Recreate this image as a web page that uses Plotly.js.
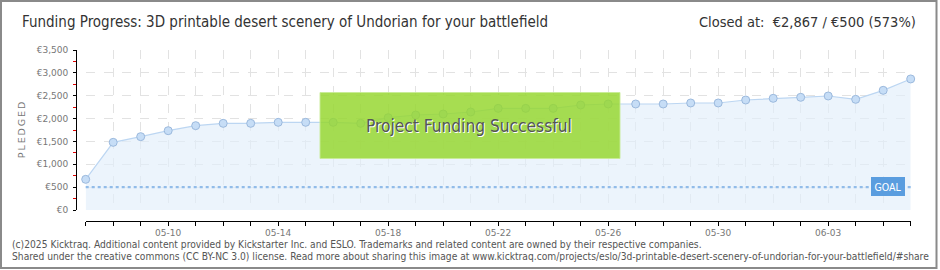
<!DOCTYPE html>
<html>
<head>
<meta charset="utf-8">
<script src="https://cdn.plot.ly/plotly-3.0.1.min.js"></script>
<style>
html,body{margin:0;padding:0;background:#fff;}
#chart{width:940px;height:270px;}
</style>
</head>
<body>
<div id="chart"></div>
<script>
// ---- data ----
const days = ['05-07','05-08','05-09','05-10','05-11','05-12','05-13','05-14','05-15','05-16',
  '05-17','05-18','05-19','05-20','05-21','05-22','05-23','05-24','05-25','05-26',
  '05-27','05-28','05-29','05-30','05-31','06-01','06-02','06-03','06-04','06-05','06-06'];
const pledged = [671,1480,1604,1735,1845,1896,1896,1918,1918,1918,
  1896,2020,2078,2100,2144,2224,2224,2224,2297,2319,
  2319,2319,2341,2341,2406,2443,2465,2494,2421,2618,2867];
const goal = 500;
const tickLabels = ['','','','05-10','','','','05-14','','','','05-18','','','','05-22','','','','05-26',
  '','','','05-30','','','','06-03','','',''];
const titleText = 'Funding Progress: 3D printable desert scenery of Undorian for your battlefield';
const statusText = 'Closed at:  €2,867 / €500 (573%)';
const bannerText = 'Project Funding Successful';
const yTitle = 'P\u2009L\u2009E\u2009D\u2009G\u2009E\u2009D';
const footer1 = '(c)2025 Kicktraq. Additional content provided by Kickstarter Inc. and ESLO. Trademarks and related content are owned by their respective companies.';
const footer2 = 'Shared under the creative commons (CC BY-NC 3.0) license. Read more about sharing this image at www.kicktraq.com/projects/eslo/3d-printable-desert-scenery-of-undorian-for-your-battlefield/#share';

// ---- geometry helpers (pixels -> paper) ----
const W = 940, H = 270;
const px = x => x / W;
const py = y => 1 - y / H;
const FONT = 'DejaVu Sans Condensed, DejaVu Sans, sans-serif';
const FONT_W = 'DejaVu Sans, sans-serif';

const traces = [
  {
    x: days, y: pledged, type: 'scatter', mode: 'lines+markers',
    fill: 'tozeroy', fillcolor: 'rgba(226,238,251,0.65)',
    line: {color: '#bcd6f2', width: 1.2},
    marker: {size: 8, color: '#c6ddf6', line: {color: '#9bb9dd', width: 1}},
    hoverinfo: 'skip', xaxis: 'x', yaxis: 'y', cliponaxis: false
  },
  {
    x: days, y: pledged, type: 'scatter', mode: 'markers',
    marker: {opacity: 0}, hoverinfo: 'skip', xaxis: 'x2', yaxis: 'y2', showlegend: false
  }
];

const layout = {
  width: W, height: H,
  margin: {l: 0, r: 0, t: 0, b: 0},
  paper_bgcolor: '#ffffff', plot_bgcolor: 'rgba(0,0,0,0)',
  showlegend: false,
  separators: '.,',
  xaxis: {
    type: 'category', range: [0, days.length - 1],
    domain: [px(85.7), px(910.7)],
    showgrid: true, gridcolor: '#e2e2e2', griddash: 'dash', gridwidth: 1,
    showticklabels: false, ticks: '', showline: false, zeroline: false, fixedrange: true
  },
  yaxis: {
    range: [0, 3500], dtick: 500,
    domain: [py(210), py(50)],
    showgrid: true, gridcolor: '#e2e2e2', griddash: 'dash', gridwidth: 1,
    showticklabels: false, ticks: '', showline: false, zeroline: false, fixedrange: true
  },
  xaxis2: {
    type: 'category', overlaying: 'x', anchor: 'free', position: py(220.5),
    range: [0, days.length - 1],
    tickmode: 'array', tickvals: days, ticktext: tickLabels,
    ticks: 'outside', ticklen: 4, tickcolor: '#000', tickwidth: 1,
    showline: true, linecolor: '#000', linewidth: 1,
    showgrid: false, zeroline: false,
    tickfont: {family: FONT_W, size: 9, color: '#777'}, fixedrange: true
  },
  yaxis2: {
    overlaying: 'y', anchor: 'free', position: px(76), side: 'left',
    range: [0, 3500], dtick: 500, tickprefix: '€', tickformat: ',d',
    ticks: 'outside', ticklen: 3, tickcolor: '#000', tickwidth: 1,
    minor: {ticks: 'outside', ticklen: 3, tickcolor: '#e00000', dtick: 250, showgrid: false},
    showline: true, linecolor: '#000', linewidth: 1,
    showgrid: false, zeroline: false,
    tickfont: {family: FONT_W, size: 9, color: '#777'}, ticklabelstandoff: 3,
    title: {text: yTitle, font: {family: FONT_W, size: 9.5, color: '#777'}, standoff: 8},
    fixedrange: true
  },
  shapes: [
    // goal line
    {type: 'line', xref: 'x domain', yref: 'y', x0: 0, x1: 1, y0: goal, y1: goal,
     line: {color: '#92bce9', width: 2.2, dash: 'dot'}, layer: 'above'},
    // success banner
    {type: 'rect', xref: 'paper', yref: 'paper', x0: px(320), x1: px(620), y0: py(158.5), y1: py(92.5),
     fillcolor: 'rgba(150,214,48,0.84)', line: {color: 'rgba(200,235,150,0.9)', width: 1}, layer: 'above'},
    // frame
    {type: 'rect', xref: 'paper', yref: 'paper', x0: px(1), x1: px(936.5), y0: py(268), y1: py(1),
     line: {color: '#8a8a8a', width: 2}, fillcolor: 'rgba(0,0,0,0)', layer: 'above'}
  ],
  annotations: [
    {text: titleText, xref: 'paper', yref: 'paper', x: px(20), y: py(22), xanchor: 'left', yanchor: 'middle',
     showarrow: false, font: {family: FONT, size: 15, color: '#333'}},
    {text: statusText, xref: 'paper', yref: 'paper', x: px(918), y: py(22), xanchor: 'right', yanchor: 'middle',
     showarrow: false, font: {family: FONT, size: 14.5, color: '#333'}},
    {text: bannerText, xref: 'paper', yref: 'paper', x: px(469), y: py(126), xanchor: 'center', yanchor: 'middle',
     showarrow: false, font: {family: FONT, size: 17.2, color: '#555', shadow: '1px 1px 0px #ffffff'}},
    {text: 'GOAL', xref: 'paper', yref: 'paper', x: px(887.5), y: py(187), xanchor: 'center', yanchor: 'middle',
     showarrow: false, bgcolor: '#5a9ddf', borderpad: 2.5, bordercolor: '#5a9ddf',
     font: {family: FONT, size: 10.5, color: '#fff'}},
    {text: footer1, xref: 'paper', yref: 'paper', x: px(10), y: py(244), xanchor: 'left', yanchor: 'middle',
     showarrow: false, font: {family: FONT, size: 10.2, color: '#555'}},
    {text: footer2, xref: 'paper', yref: 'paper', x: px(10), y: py(256), xanchor: 'left', yanchor: 'middle',
     showarrow: false, font: {family: FONT, size: 10.2, color: '#555'}}
  ]
};

Plotly.newPlot('chart', traces, layout, {staticPlot: true, displayModeBar: false});
</script>
</body>
</html>
